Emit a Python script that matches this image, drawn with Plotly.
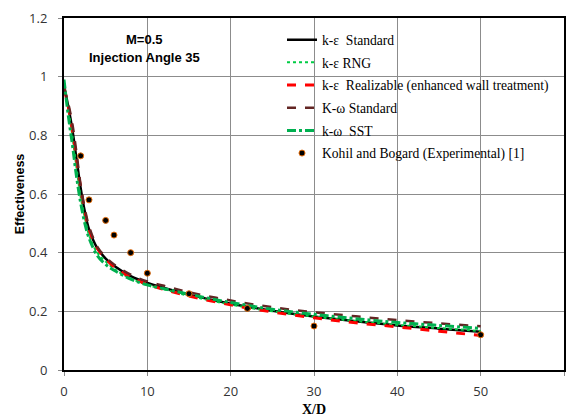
import plotly.graph_objects as go

x_sim = [0, 0.5, 1, 1.5, 2, 2.5, 3, 4, 5, 6, 8, 10, 12, 15, 20, 25, 30, 35, 40, 45, 50]
ke_standard = [0.97, 0.90, 0.82, 0.72, 0.62, 0.54, 0.48, 0.415, 0.38, 0.355, 0.32, 0.297, 0.28, 0.257, 0.226, 0.202, 0.182, 0.166, 0.152, 0.141, 0.13]
ke_rng = [0.98, 0.89, 0.80, 0.69, 0.59, 0.52, 0.46, 0.40, 0.37, 0.345, 0.312, 0.29, 0.275, 0.253, 0.223, 0.20, 0.182, 0.167, 0.154, 0.143, 0.133]
ke_realizable = [0.96, 0.90, 0.82, 0.72, 0.62, 0.54, 0.48, 0.415, 0.38, 0.352, 0.316, 0.292, 0.275, 0.252, 0.222, 0.198, 0.178, 0.161, 0.147, 0.132, 0.118]
kw_standard = [0.96, 0.91, 0.84, 0.74, 0.63, 0.55, 0.49, 0.42, 0.385, 0.36, 0.325, 0.302, 0.287, 0.265, 0.237, 0.214, 0.197, 0.183, 0.17, 0.159, 0.149]
kw_sst = [0.99, 0.87, 0.77, 0.66, 0.57, 0.50, 0.45, 0.39, 0.36, 0.34, 0.31, 0.29, 0.277, 0.258, 0.23, 0.207, 0.19, 0.175, 0.162, 0.152, 0.142]

x_exp = [2, 3, 5, 6, 8, 10, 15, 22, 30, 50]
y_exp = [0.73, 0.58, 0.51, 0.46, 0.40, 0.33, 0.26, 0.21, 0.15, 0.12]

names = ["k-\u03b5  Standard", "k-\u03b5 RNG", "k-\u03b5  Realizable (enhanced wall treatment)",
         "K-\u03c9 Standard", "k-\u03c9  SST", "Kohil and Bogard (Experimental) [1]"]

fig = go.Figure()
series = [
    (ke_standard, "black", "solid", 2.5),
    (ke_rng, "#00CC44", "dot", 2),
    (ke_realizable, "#FF0000", "dash", 3),
    (kw_standard, "#632523", "dash", 2.5),
    (kw_sst, "#00B050", "dashdot", 3),
]
for i, (ys, c, d, w) in enumerate(series):
    fig.add_trace(go.Scatter(x=x_sim, y=ys, mode="lines", name=names[i], legendgroup=str(i),
                             line=dict(color=c, dash=d, width=w, shape="spline")))
fig.add_trace(go.Scatter(x=x_exp, y=y_exp, mode="markers", name=names[5], legendgroup="5",
                         marker=dict(color="black", size=6, line=dict(color="#E46C0A", width=1))))

ax = (145 - 64.5) / 501.5
fig.add_annotation(xref="paper", yref="paper", x=ax, y=(370.7 - 40) / 352.0, xanchor="center", yanchor="middle",
                   text="<b>M=0.5</b>", showarrow=False,
                   font=dict(family="Liberation Sans", size=13, color="black"))
fig.add_annotation(xref="paper", yref="paper", x=ax, y=(370.7 - 58) / 352.0, xanchor="center", yanchor="middle",
                   text="<b>Injection Angle 35</b>", showarrow=False,
                   font=dict(family="Liberation Sans", size=13, color="black"))

fig.update_layout(
    width=569, height=418,
    margin=dict(l=64, r=3, t=18, b=47),
    paper_bgcolor="white", plot_bgcolor="white",
    showlegend=True,
    legend=dict(x=0.436, y=0.982, xanchor="left", yanchor="top", bgcolor="rgba(0,0,0,0)",
                font=dict(family="Liberation Serif", size=13.6, color="black"),
                tracegroupgap=2, itemwidth=30),
    xaxis=dict(range=[0, 60], tickvals=[0, 10, 20, 30, 40, 50, 60], showgrid=True, gridcolor="#8c8c8c",
               gridwidth=1, showline=True, linecolor="black", linewidth=2, mirror=True,
               ticks="outside", ticklen=4, tickcolor="#888", zeroline=False, ticklabelstandoff=4,
               tickfont=dict(family="Open Sans", size=13, color="#333"),
               title=dict(text="<b>X/D</b>", font=dict(family="Liberation Serif", size=14, color="black"), standoff=6)),
    yaxis=dict(range=[0, 1.2], tickvals=[0, 0.2, 0.4, 0.6, 0.8, 1, 1.2], ticktext=["0", "0.2", "0.4", "0.6", "0.8", "1", "1.2"],
               showgrid=True, gridcolor="#8c8c8c", gridwidth=1, showline=True, linecolor="black",
               linewidth=2, mirror=True, ticks="outside", ticklen=4, tickcolor="#888", zeroline=False,
               ticklabelstandoff=8,
               tickfont=dict(family="Open Sans", size=13, color="#333"),
               title=dict(text="<b>Effectiveness</b>", font=dict(family="Liberation Sans", size=12.5, color="black"), standoff=2)),
)
fig.write_html("out.html")
